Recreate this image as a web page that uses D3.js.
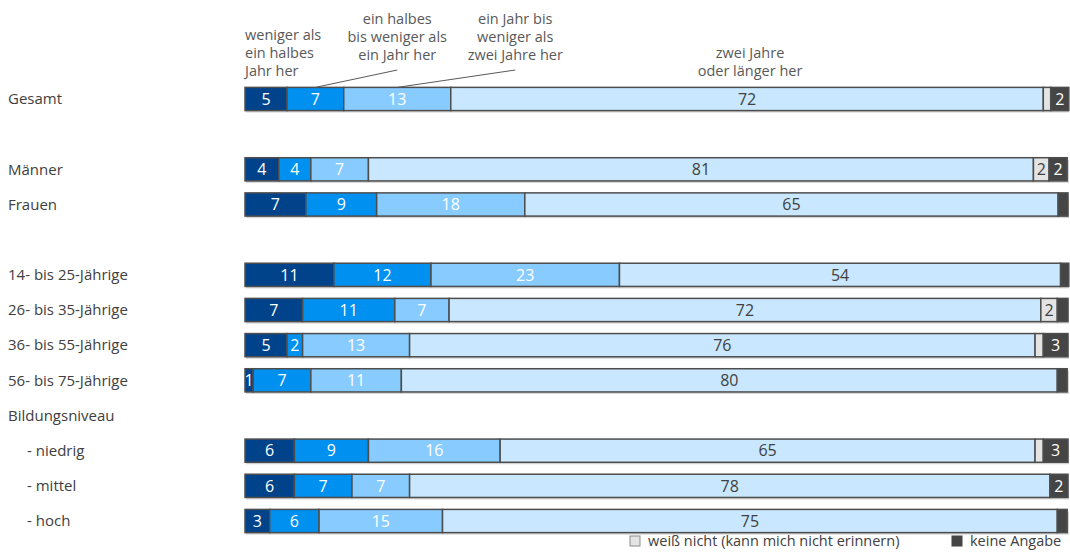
<!DOCTYPE html>
<html>
<head>
<meta charset="utf-8">
<script src="https://cdn.jsdelivr.net/npm/d3@7"></script>
<style>
  body { margin: 0; background: #fff; }
  text { font-family: "Open Sans", sans-serif; }
</style>
</head>
<body>
<svg id="chart" width="1070" height="560"></svg>
<script>
// rows of the chart (empty strings are spacer rows, "Bildungsniveau" is a heading)
const rowLabels = ["Gesamt", "", "Männer", "Frauen", "", "14- bis 25-Jährige", "26- bis 35-Jährige",
    "36- bis 55-Jährige", "56- bis 75-Jährige", "Bildungsniveau", "- niedrig", "- mittel", "- hoch"];

const seriesNames = ["weniger als ein halbes Jahr her", "ein halbes bis weniger als ein Jahr her",
    "ein Jahr bis weniger als zwei Jahre her", "zwei Jahre oder länger her",
    "weiß nicht (kann mich nicht erinnern)", "keine Angabe"];

// percentages per row (null = no bar)
const halbesJahr       = [5.1, null, 4.1, 7.4, null, 10.8, 7, 5.1, 1, null, 6, 6, 3];
const bisEinJahr       = [6.9, null, 3.9, 8.6, null, 11.8, 11.2, 1.9, 7, null, 9, 7, 6];
const bisZweiJahre     = [13, null, 7, 18, null, 22.9, 6.6, 13, 11, null, 16, 7, 15];
const zweiJahreLaenger = [72, null, 80.8, 64.8, null, 53.6, 71.9, 76, 79.7, null, 65, 77.8, 74.7];
const weissNicht       = [0.9, null, 1.9, 0, null, 0, 2, 1, 0, null, 1, 0, 0];
const keineAngabe      = [2.2, null, 2.2, 1.2, null, 1, 1.3, 3, 1.2, null, 3, 2.2, 1.2];

// header annotations above the first bar
const headerLines = [
    ["weniger als", "ein halbes", "Jahr her"],
    ["ein halbes", "bis weniger als", "ein Jahr her"],
    ["ein Jahr bis", "weniger als", "zwei Jahre her"],
    ["zwei Jahre", "oder länger her"]
];

const series = [halbesJahr, bisEinJahr, bisZweiJahre, zweiJahreLaenger, weissNicht, keineAngabe];
const colors = ["#00438a", "#0090f0", "#88ccff", "#c9e8ff", "#e4e4e4", "#454545"];
const labelColors = ["#fff", "#fff", "#fff", "#404040", "#404040", "#fff"];
const textColor = "#404040";

const svg = d3.select("#chart");

const x = d3.scaleLinear().domain([0, 100]).range([245, 1068]);
const y = d3.scaleBand()
    .domain(d3.range(rowLabels.length))
    .range([81.4, 538.6])
    .paddingInner(0.34)
    .paddingOuter(0.17);

// left labels
svg.append("g").selectAll("text")
    .data(rowLabels)
    .join("text")
    .attr("x", d => d.startsWith("-") ? 27 : 8)
    .attr("y", (d, i) => y(i) + y.bandwidth() / 2)
    .attr("dy", "0.35em")
    .attr("font-size", 15)
    .attr("fill", textColor)
    .text(d => d);

// bars
const rows = d3.range(rowLabels.length).filter(i => halbesJahr[i] !== null);
const segData = rows.map(r => {
    const vals = series.map(s => s[r]);
    const ends = d3.cumsum(vals);
    return vals.map((v, k) => ({ row: r, k: k, v: v, x0: ends[k] - v, x1: ends[k] }));
});

const barG = svg.append("g");

barG.selectAll("rect.shadow")
    .data(rows)
    .join("rect")
    .attr("class", "shadow")
    .attr("x", x(0) + 1)
    .attr("y", r => y(r) + 2)
    .attr("width", x(100) - x(0))
    .attr("height", y.bandwidth())
    .attr("fill", "#d6d6d6");

const rowG = barG.selectAll("g.row")
    .data(segData)
    .join("g")
    .attr("class", "row");

rowG.selectAll("rect")
    .data(d => d.filter(s => s.v > 0))
    .join("rect")
    .attr("x", d => x(d.x0))
    .attr("y", d => y(d.row))
    .attr("width", d => x(d.x1) - x(d.x0))
    .attr("height", y.bandwidth())
    .attr("fill", d => colors[d.k])
    .attr("stroke", "#4d4d4d")
    .attr("stroke-width", 1.5);

rowG.selectAll("text")
    .data(d => d.filter(s => s.v > 0 && (s.k < 4 || s.v >= 1.5)))
    .join("text")
    .attr("x", d => (x(d.x0) + x(d.x1)) / 2)
    .attr("y", d => y(d.row) + y.bandwidth() / 2)
    .attr("dy", "0.36em")
    .attr("text-anchor", "middle")
    .attr("font-size", 16)
    .attr("fill", d => labelColors[d.k])
    .text(d => Math.round(d.v));

// header annotations
const first = segData[0];
const mid = k => (x(first[k].x0) + x(first[k].x1)) / 2;
const barTop = y(0);
const headerPos = [
    { x: x(0), anchor: "start", y0: 40 },
    { x: mid(2), anchor: "middle", y0: 24 },
    { x: mid(2) + 118, anchor: "middle", y0: 24 },
    { x: mid(3) + 3, anchor: "middle", y0: 58 }
];
const lh = 18;
const head = svg.append("g").attr("font-size", 14.5).attr("fill", "#595959");
headerLines.forEach((lines, i) => {
    head.append("text")
        .attr("text-anchor", headerPos[i].anchor)
        .selectAll("tspan")
        .data(lines)
        .join("tspan")
        .attr("x", headerPos[i].x)
        .attr("y", (d, j) => headerPos[i].y0 + j * lh)
        .text(d => d);
});
// leader lines from annotation 2 and 3 to their segments
[[1, 1], [2, 2]].forEach(([h, k]) => {
    svg.append("line")
        .attr("x1", headerPos[h].x)
        .attr("y1", headerPos[h].y0 + 2 * lh + 10)
        .attr("x2", mid(k))
        .attr("y2", barTop)
        .attr("stroke", "#595959")
        .attr("stroke-width", 1);
});

// legend
const legendItems = [
    { name: seriesNames[4], fill: colors[4], stroke: "#8c8c8c", x: 630 },
    { name: seriesNames[5], fill: colors[5], stroke: colors[5], x: 952 }
];
const leg = svg.append("g").selectAll("g")
    .data(legendItems)
    .join("g")
    .attr("transform", d => `translate(${d.x},541)`);
leg.append("rect")
    .attr("x", 0).attr("y", -5)
    .attr("width", 10).attr("height", 10)
    .attr("fill", d => d.fill)
    .attr("stroke", d => d.stroke);
leg.append("text")
    .attr("x", 18)
    .attr("dy", "0.35em")
    .attr("font-size", 14.5)
    .attr("fill", textColor)
    .text(d => d.name);
</script>
</body>
</html>
